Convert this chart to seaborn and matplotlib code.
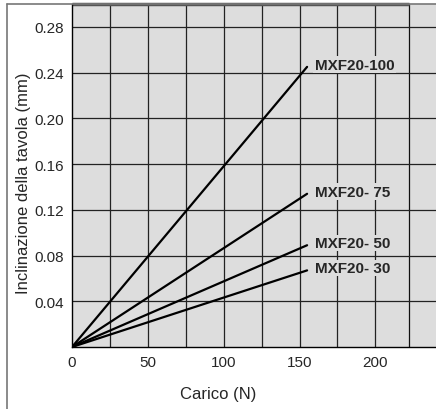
import numpy as np
import pandas as pd
import seaborn as sns
import matplotlib.pyplot as plt
from matplotlib.lines import Line2D

############# Data ######################
loads = [0, 155]
series = ['MXF20-100', 'MXF20- 75', 'MXF20- 50', 'MXF20- 30']
tilt_end = [0.245, 0.134, 0.089, 0.067]
x_ticks = [0, 50, 100, 150, 200]
y_ticks = [0.04, 0.08, 0.12, 0.16, 0.20, 0.24, 0.28]

rows = []
for name, yend in zip(series, tilt_end):
    rows.append({'model': name, 'load': loads[0], 'tilt': 0.0})
    rows.append({'model': name, 'load': loads[1], 'tilt': yend})
df = pd.DataFrame(rows)

############# Plot ######################
sns.set_style('white')
plt.rcParams['font.family'] = ['Liberation Sans', 'DejaVu Sans']

fig = plt.figure(figsize=(4.36, 4.10), dpi=100)
ax = fig.add_axes([72 / 436, 1 - 348 / 410, 1 - 72 / 436, (348 - 5) / 410])
ax.set_facecolor('#dddddd')

sns.lineplot(data=df, x='load', y='tilt', hue='model', palette=['black'] * 4,
             linewidth=1.6, legend=False, ax=ax, zorder=3)

ax.set_xlim(0, 240)
ax.set_ylim(0, 0.30)

# grid
for gx in np.arange(25, 201, 25):
    ax.axvline(gx, color='#222222', lw=0.9, zorder=1)
ax.axvline(222, color='#111111', lw=0.9, zorder=1)
for gy in y_ticks:
    ax.axhline(gy, color='#222222', lw=0.9, zorder=1)
ax.hlines(0.30, 0, 222, color='#555555', lw=2.5, zorder=2, clip_on=False)

# labels at line ends
for name, yend in zip(series, tilt_end):
    ax.text(loads[1] + 5, yend + 0.002, name, fontsize=11, fontweight='bold',
            va='center', ha='left', zorder=4,
            bbox=dict(facecolor='#dddddd', edgecolor='none', pad=1.0))

ax.set_xticks(x_ticks)
ax.set_xticklabels([str(v) for v in x_ticks])
ax.set_yticks(y_ticks)
ax.set_yticklabels([f'{v:.2f}' for v in y_ticks])
ax.tick_params(axis='both', length=0, labelsize=11, pad=6)

for side in ['top', 'right']:
    ax.spines[side].set_visible(False)
for side in ['left', 'bottom']:
    ax.spines[side].set_color('black')
    ax.spines[side].set_linewidth(1.0)

ax.set_xlabel('Carico (N)', fontsize=12)
ax.xaxis.set_label_coords((218 - 72) / 364, -0.115)
ax.set_ylabel('Inclinazione della tavola (mm)', fontsize=12)
ax.yaxis.set_label_coords(-0.113, 0.48)

# outer frame lines
fig.add_artist(Line2D([7 / 436, 7 / 436], [0, 1 - 5 / 410], color='#777777', lw=1.2))
fig.add_artist(Line2D([7 / 436, 1], [1 - 5 / 410, 1 - 5 / 410], color='#777777', lw=1.2))

fig.savefig('out.png', dpi=100)
